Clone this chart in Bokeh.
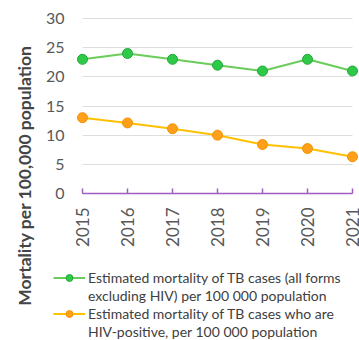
from math import pi
from bokeh.plotting import figure
from bokeh.models import Range1d, Label, Legend, LegendItem, FixedTicker
from bokeh.embed import file_html
from bokeh.resources import INLINE

years = [2015, 2016, 2017, 2018, 2019, 2020, 2021]
all_forms = [23, 24, 23, 22, 21, 23, 21]
hiv_pos = [13, 12.1, 11.1, 10, 8.4, 7.7, 6.3]
y_ticks = [0, 5, 10, 15, 20, 25, 30]
label_all = ["Estimated mortality of TB cases (all forms",
             "excluding HIV) per 100 000 population"]
label_hiv = ["Estimated mortality of TB cases who are",
             "HIV-positive, per 100 000 population"]
y_title = "Mortality per 100,000 population"

FONT = "Lato"
TXT = "#595959"
W, H = 359, 340
# pixel layout of the plotting area inside the canvas
PX_L, PX_R, PX_T, PX_B = 82, 352, 18, 193
x0, x1 = years[0], years[-1]
y0, y1 = y_ticks[0], y_ticks[-1]
kx = (x1 - x0) / (PX_R - PX_L)
ky = (y1 - y0) / (PX_B - PX_T)
xr = Range1d(x0 - PX_L * kx, x1 + (W - PX_R) * kx)
yr = Range1d(y0 - (H - PX_B) * ky, y1 + PX_T * ky)

p = figure(width=W, height=H, output_backend="svg", toolbar_location=None,
           x_range=xr, y_range=yr,
           min_border_left=0, min_border_right=0, min_border_top=0, min_border_bottom=0)
p.outline_line_color = None
p.background_fill_color = "white"

p.xgrid.grid_line_color = None
p.ygrid.grid_line_color = "#dedede"
p.ygrid.grid_line_width = 1
try:
    p.ygrid.cross_bounds = (x0, x1)
except Exception:
    pass

p.yaxis.fixed_location = x0
p.yaxis.bounds = (y0, y1)
p.yaxis.ticker = FixedTicker(ticks=y_ticks)
p.yaxis.axis_line_color = None
p.yaxis.major_tick_line_color = None
p.yaxis.minor_tick_line_color = None
p.yaxis.major_label_text_font = FONT
p.yaxis.major_label_text_font_size = "16px"
p.yaxis.major_label_text_color = TXT
p.yaxis.major_label_standoff = 12

p.xaxis.fixed_location = y0
p.xaxis.bounds = (x0, x1)
p.xaxis.ticker = FixedTicker(ticks=years)
p.xaxis.axis_line_color = "#a05cc0"
p.xaxis.axis_line_width = 1.5
p.xaxis.major_tick_line_color = "#a05cc0"
p.xaxis.major_tick_line_width = 1.5
p.xaxis.major_tick_in = 5
p.xaxis.major_tick_out = 0
p.xaxis.minor_tick_line_color = None
p.xaxis.major_label_orientation = pi / 2
p.xaxis.major_label_text_font = FONT
p.xaxis.major_label_text_font_size = "17px"
p.xaxis.major_label_text_color = TXT
p.xaxis.major_label_standoff = 14

l1 = p.line(years, all_forms, line_color="#6acc5a", line_width=2)
s1 = p.scatter(years, all_forms, size=10, fill_color="#2fc948", line_color="#1fa83a", line_width=1)
l2 = p.line(years, hiv_pos, line_color="#ffc000", line_width=2)
s2 = p.scatter(years, hiv_pos, size=10, fill_color="#ff9f1a", line_color="#f39200", line_width=1)
blank = p.line([], [], line_alpha=0)

p.add_layout(Label(x=24, y=165, x_units="screen", y_units="screen", text=y_title,
                   angle=pi / 2, text_align="center", text_baseline="middle",
                   text_font=FONT, text_font_style="bold", text_font_size="17.5px",
                   text_color="#454545"))

legend = Legend(items=[LegendItem(label=label_all[0], renderers=[l1, s1]),
                       LegendItem(label=label_all[1], renderers=[blank]),
                       LegendItem(label=label_hiv[0], renderers=[l2, s2]),
                       LegendItem(label=label_hiv[1], renderers=[blank])],
                location=(53, 0), padding=0, margin=0, spacing=1,
                border_line_color=None, background_fill_alpha=0,
                glyph_width=32, glyph_height=17, label_height=17, label_standoff=3,
                label_text_font=FONT, label_text_font_size="14px",
                label_text_color="#404040")
p.add_layout(legend, "center")

open("out.html", "w").write(file_html(p, INLINE))
